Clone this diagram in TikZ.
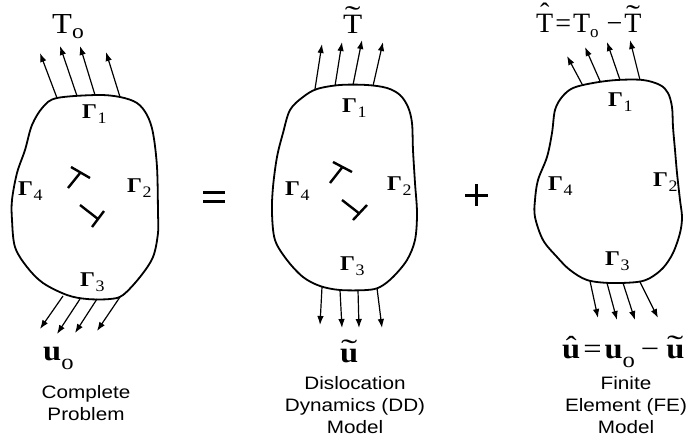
\documentclass[tikz,border=0pt]{standalone}
\usepackage{fontspec}
\usepackage{graphicx}
\setmainfont{Liberation Serif}[FakeStretch=1.12]
\newfontfamily\plainserif{Liberation Serif}
\newfontfamily\lab{Liberation Sans}[FakeStretch=1.15]
\usetikzlibrary{arrows.meta}
\newcommand\Gm[1]{{\fontsize{21}{21}\selectfont\bfseries Γ\kern0.5pt\raisebox{-5pt}{\fontsize{16}{16}\mdseries\selectfont #1}}}
\newcommand\subo{\raisebox{-5pt}{\fontsize{21}{21}\mdseries\selectfont o}}
\newcommand\subos{\raisebox{-5pt}{\fontsize{17}{17}\mdseries\selectfont o}}
\newcommand\subou{\raisebox{-9pt}{\fontsize{22}{22}\mdseries\selectfont o}}
\newcommand\tildop[2]{\ooalign{#2\cr\hidewidth\raisebox{#1}{\mdseries\scalebox{1.5}[1]{\char"02DC}}\hidewidth\cr}}
\newcommand\hatop[2]{\ooalign{#2\cr\hidewidth\raisebox{#1}{\mdseries\char"02C6}\hidewidth\cr}}
\tikzset{
  blob/.style={line width=1.8pt, line join=round},
  arr/.style={-{Latex[length=9pt,width=6.5pt]}, line width=1.2pt},
  disl/.style={line width=2.4pt},
  gl/.style={anchor=base west, inner sep=0pt},
  big/.style={anchor=base west, inner sep=0pt, font=\fontsize{28}{28}\selectfont},
  bigu/.style={anchor=base west, inner sep=0pt, font=\fontsize{29}{29}\selectfont\bfseries},
  captxt/.style={anchor=base, inner sep=0pt, align=center, font=\lab\fontsize{18}{22}\selectfont},
  sign/.style={line width=3pt}
}
\begin{document}
\begin{tikzpicture}[x=1pt,y=-1pt]
\useasboundingbox (0,0) rectangle (694,440);
% ---------- blob 1 ----------
\draw[blob] plot[smooth cycle, tension=0.55] coordinates {
(32,125)(43,107)(57,98)(97,95)(120,97)(137,103)(147,115)(153,133)(157,167)(158,213)
(158,233)(153,257)(140,277)(123,295)(110,299)(87,299)(67,295)(43,283)(27,267)(15,247)
(12,220)(12,200)(17,173)(25,150)};
\foreach \a/\b/\c/\d in {57/98/40/53, 77/96/60/46, 95/95/80/46, 120/97/106/52}
  \draw[arr] (\a,\b) -- (\c,\d);
\foreach \a/\b/\c/\d in {63/296/40/329, 80/299/57/334, 97/299/75/333, 120/297/97/331}
  \draw[arr] (\a,\b) -- (\c,\d);
\node[gl] (g11) at (82,118) {\Gm{1}};
\node[gl] (g14) at (18,195) {\Gm{4}};
\node[gl] (g12) at (127,192) {\Gm{2}};
\node[gl] (g13) at (80,286) {\Gm{3}};
\draw[disl] (71,167) -- (90,178) (80.5,172.5) -- (68,188);
\draw[disl] (80,205) -- (98,219) (104,211) -- (92,227);
\node[big,font=\fontsize{29}{29}\selectfont] (to) at (52,33) {T\subo};
\node[bigu] (uo) at (43,360) {u\subou};
\node[captxt] (c1) at (86,420) {Complete\\Problem};
% ---------- equals ----------
\draw[sign] (203,192) -- (225,192) (203,201) -- (225,201);
% ---------- blob 2 ----------
\draw[blob] plot[smooth cycle, tension=0.55] coordinates {
(290,110)(303,97)(317,89)(340,85)(367,85)(387,88)(400,95)(408,107)(412,123)(413,150)
(415,183)(417,213)(415,240)(407,260)(393,277)(380,287)(367,290)(340,290)(320,286)(303,277)
(287,260)(275,240)(272,213)(273,187)(277,157)(283,133)};
\foreach \a/\b/\c/\d in {315/89/322/44, 335/86/342/42, 353/85/362/40, 373/86/383/42}
  \draw[arr] (\a,\b) -- (\c,\d);
\foreach \a/\b/\c/\d in {322/287/320/325, 340/290/342/328, 358/290/359/328, 377/288/382/328}
  \draw[arr] (\a,\b) -- (\c,\d);
\node[gl] (g21) at (342,112) {\Gm{1}};
\node[gl] (g24) at (285,195) {\Gm{4}};
\node[gl] (g22) at (387,190) {\Gm{2}};
\node[gl] (g23) at (340,270) {\Gm{3}};
\draw[disl] (333,162) -- (352,172) (342.5,167) -- (330,183);
\draw[disl] (342,200) -- (360,214) (367,205) -- (353,220);
\node[big] (tt) at (343,33) {\tildop{8pt}{T}};
\node[bigu] (ut) at (340,362) {\tildop{3pt}{u}};
\node[captxt] (c2) at (355,433) {Dislocation\\Dynamics (DD)\\Model};
% ---------- plus ----------
\draw[sign] (465,195) -- (488,195) (476.5,184) -- (476.5,206);
% ---------- blob 3 ----------
\draw[blob] plot[smooth cycle, tension=0.55] coordinates {
(555,110)(562,97)(573,88)(593,83)(617,80)(643,80)(660,85)(668,93)(672,107)(673,127)
(675,150)(677,173)(680,200)(682,217)(680,233)(673,253)(663,268)(650,278)(637,282)(610,283)
(587,280)(570,270)(557,257)(543,240)(535,217)(535,200)(538,180)(547,157)(552,133)};
\foreach \a/\b/\c/\d in {582/84/567/56, 600/81/585/47, 620/80/607/42, 640/80/630/40}
  \draw[arr] (\a,\b) -- (\c,\d);
\foreach \a/\b/\c/\d in {590/281/598/318, 607/283/617/320, 623/283/635/320, 640/282/658/318}
  \draw[arr] (\a,\b) -- (\c,\d);
\node[gl] (g31) at (608,106) {\Gm{1}};
\node[gl] (g34) at (548,190) {\Gm{4}};
\node[gl] (g32) at (653,186) {\Gm{2}};
\node[gl] (g33) at (605,265) {\Gm{3}};
\node[big,font=\plainserif\fontsize{28}{28}\selectfont] (th) at (536,32) {\hatop{10pt}{T}\kern2pt=\kern2pt T\subos\kern8pt−\kern2pt\tildop{8pt}{T}};
\node[bigu] (uh) at (562,358) {\hatop{2pt}{u}\kern3pt{\mdseries=}\kern3pt u\subou\kern6pt{\mdseries−}\kern7pt\tildop{3pt}{u}};
\node[captxt] (c3) at (626,433) {Finite\\Element (FE)\\Model};
\end{tikzpicture}
\end{document}
